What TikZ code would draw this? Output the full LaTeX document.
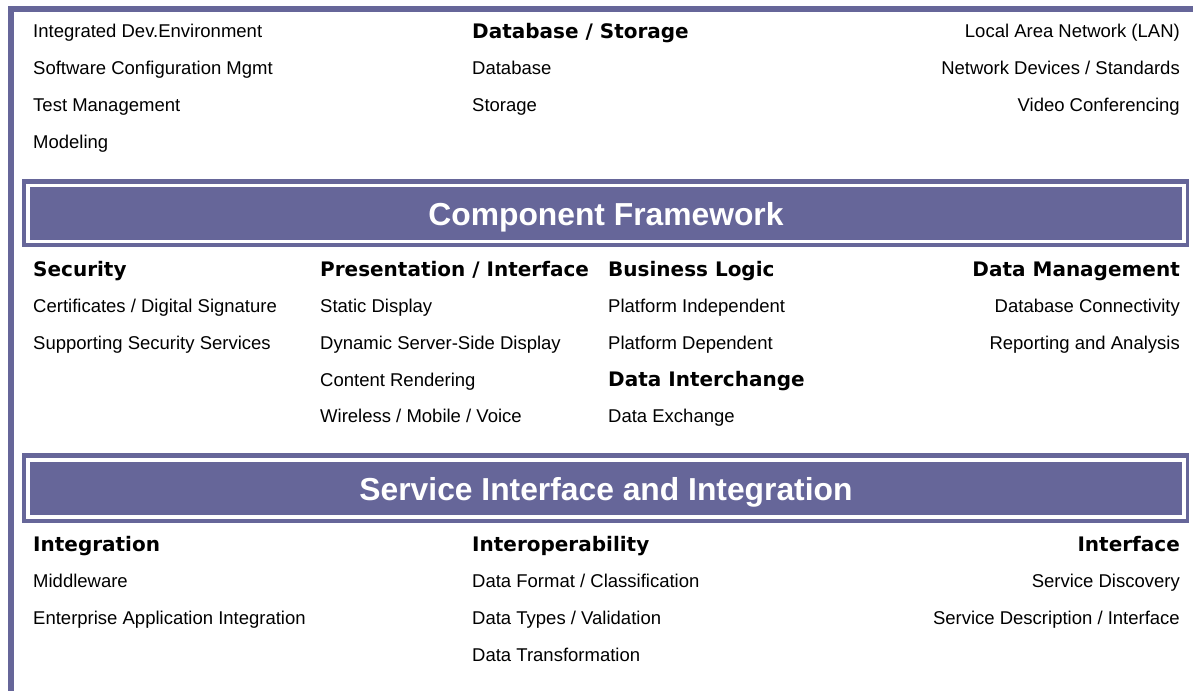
\documentclass[tikz,border=0pt]{standalone}
\usepackage{fontspec}
\setmainfont{Liberation Sans}
\newfontfamily\headfont{DejaVu Sans}
\definecolor{pp}{HTML}{666699}
\tikzset{
  item/.style={inner sep=0pt, font=\fontsize{18.5}{22}\selectfont, text=black},
  itl/.style={item, anchor=base west},
  itr/.style={item, anchor=base east},
  head/.style={inner sep=0pt, font=\headfont\bfseries\fontsize{20}{24}\selectfont, text=black},
  hdl/.style={head, anchor=base west},
  hdr/.style={head, anchor=base east},
  bantext/.style={inner sep=0pt, anchor=base, text=white, font=\bfseries\fontsize{31.8}{36}\selectfont},
}
\begin{document}
\begin{tikzpicture}[x=1pt,y=-1pt]
\useasboundingbox (0,0) rectangle (1193,691);
% frame bars
\fill[pp] (8,6) rectangle (14,691);
\fill[pp] (8,6) rectangle (1193,12);
% banner 1
\fill[pp] (22,179) rectangle (1189,247);
\fill[white] (26,184) rectangle (1186,243);
\fill[pp] (30,187) rectangle (1182,240);
\node[bantext] (b1) at (606,225) {Component Framework};
% banner 2
\fill[pp] (22,453) rectangle (1189,523);
\fill[white] (26,458) rectangle (1186,519);
\fill[pp] (30,462) rectangle (1182,515);
\node[bantext] (b2) at (606,500) {Service Interface and Integration};
% top section
\node[itl] (t1) at (33,37) {Integrated Dev.Environment};
\node[itl] (t2) at (33,74) {Software Configuration Mgmt};
\node[itl] (t3) at (33,111) {Test Management};
\node[itl] (t4) at (33,148) {Modeling};
\node[hdl] (dbh) at (472,38) {Database / Storage};
\node[itl] (db1) at (472,74) {Database};
\node[itl] (db2) at (472,111) {Storage};
\node[itr] (n1) at (1180,37) {Local Area Network (LAN)};
\node[itr] (n2) at (1180,74) {Network Devices / Standards};
\node[itr] (n3) at (1180,111) {Video Conferencing};
% component framework
\node[hdl] (sech) at (33,276) {Security};
\node[itl] (sec1) at (33,312) {Certificates / Digital Signature};
\node[itl] (sec2) at (33,349) {Supporting Security Services};
\node[hdl] (prh) at (320,276) {Presentation / Interface};
\node[itl] (pr1) at (320,312) {Static Display};
\node[itl] (pr2) at (320,349) {Dynamic Server-Side Display};
\node[itl] (pr3) at (320,386) {Content Rendering};
\node[itl] (pr4) at (320,422) {Wireless / Mobile / Voice};
\node[hdl] (blh) at (608,276) {Business Logic};
\node[itl] (bl1) at (608,312) {Platform Independent};
\node[itl] (bl2) at (608,349) {Platform Dependent};
\node[hdl] (dih) at (608,386) {Data Interchange};
\node[itl] (di1) at (608,422) {Data Exchange};
\node[hdr] (dmh) at (1180,276) {Data Management};
\node[itr] (dm1) at (1180,312) {Database Connectivity};
\node[itr] (dm2) at (1180,349) {Reporting and Analysis};
% service interface
\node[hdl] (inh) at (33,551) {Integration};
\node[itl] (in1) at (33,587) {Middleware};
\node[itl] (in2) at (33,624) {Enterprise Application Integration};
\node[hdl] (ioh) at (472,551) {Interoperability};
\node[itl] (io1) at (472,587) {Data Format / Classification};
\node[itl] (io2) at (472,624) {Data Types / Validation};
\node[itl] (io3) at (472,661) {Data Transformation};
\node[hdr] (ifh) at (1180,551) {Interface};
\node[itr] (if1) at (1180,587) {Service Discovery};
\node[itr] (if2) at (1180,624) {Service Description / Interface};
\end{tikzpicture}
\end{document}
